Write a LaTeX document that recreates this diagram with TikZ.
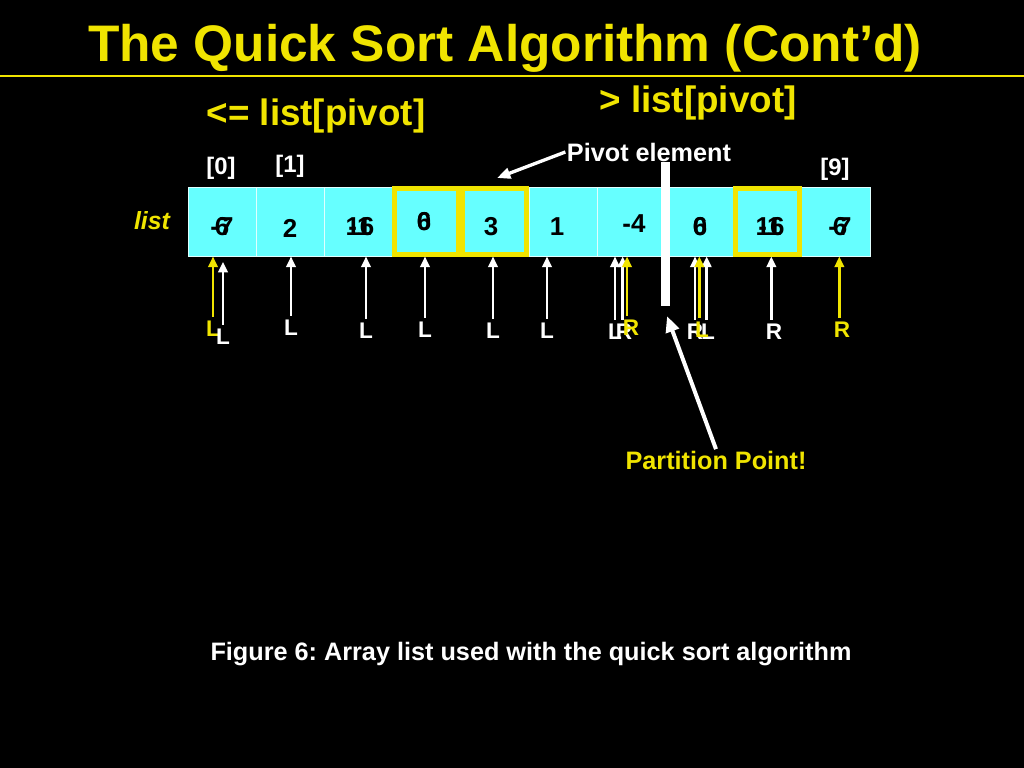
\documentclass[tikz,border=0pt]{standalone}
\usepackage{fontspec}
\setmainfont{Liberation Sans}
\usetikzlibrary{arrows.meta,positioning}
\definecolor{bg}{HTML}{000000}
\definecolor{gold}{HTML}{F0E400}
\definecolor{cellc}{HTML}{66FFFF}
\definecolor{text}{HTML}{FFFFFF}
\definecolor{ink}{HTML}{000000}
\frenchspacing
\tikzset{
  cell/.style={rectangle, fill=cellc, draw=text!80!cellc, line width=0.6bp, minimum width=51.15bp, minimum height=51.75bp, inner sep=0pt},
  pick/.style={rectangle, draw=gold, line width=4bp, minimum width=48bp, minimum height=49.5bp, inner sep=0pt},
  num/.style={text=ink, font=\fontsize{19.5}{19.5}\selectfont\bfseries, inner sep=0pt},
  idx/.style={text=text, font=\fontsize{18}{18}\selectfont\bfseries, inner sep=0pt},
  labw/.style={text=text, font=\fontsize{17}{17}\selectfont\bfseries, inner sep=3bp},
  laby/.style={text=gold, font=\fontsize{17}{17}\selectfont\bfseries, inner sep=3bp},
  head/.style={text=gold, font=\fontsize{27.7}{27.7}\selectfont\bfseries, inner sep=0pt},
  note/.style={text=text, font=\fontsize{19}{19}\selectfont\bfseries, inner sep=1bp},
  warr/.style={draw=text, line width=2.2bp, -{Triangle[length=8bp,width=7bp]}},
  yarr/.style={draw=gold, line width=2.2bp, -{Triangle[length=8bp,width=7bp]}},
}
\begin{document}
\begin{tikzpicture}[x=0.75bp, y=-0.75bp]
\useasboundingbox (0,0) rectangle (1024,768);
\fill[bg] (-6,-6) rectangle (1030,774);

\node[text=gold, font=\fontsize{38.7}{38.7}\selectfont\bfseries, inner sep=0pt] (title) at (505,48) {The Quick Sort Algorithm (Cont’d)};
\draw[gold, line width=1.5bp] (0,76) -- (1024,76);

\node[head] (lowhead) at (316,116) {<= list[pivot]};
\node[head] (highhead) at (698,103) {> list[pivot]};

\node[cell] (c0) at (222,221.5) {};
\node[cell] (c1) at (290.2,221.5) {};
\node[cell] (c2) at (358.4,221.5) {};
\node[cell] (c3) at (426.6,221.5) {};
\node[cell] (c4) at (494.8,221.5) {};
\node[cell] (c5) at (563,221.5) {};
\node[cell] (c6) at (631.2,221.5) {};
\node[cell] (c7) at (699.4,221.5) {};
\node[cell] (c8) at (767.6,221.5) {};
\node[cell] (c9) at (835.8,221.5) {};

\node[num] at (222,227) {-7};
\node[num] at (222,227) {6};
\node[num] at (290,228) {2};
\node[num] at (360,227) {16};
\node[num] at (360,227) {-1};
\node[num] at (424,222) {6};
\node[num] at (424,222) {0};
\node[num] at (491,227) {3};
\node[num] at (557,227) {1};
\node[num] at (634,224) {-4};
\node[num] at (700,227) {0};
\node[num] at (700,227) {6};
\node[num] at (770,227) {16};
\node[num] at (770,227) {-1};
\node[num] at (840,227) {6};
\node[num] at (840,227) {-7};

\node[pick] (p3) at (c3) {};
\node[pick] (p4) at (c4) {};
\node[pick] (p8) at (c8) {};

\node[fill=text, minimum width=6.75bp, minimum height=108bp, inner sep=0pt] (pbar) at (665,234) {};

\node[idx] (i0) at (221,168) {[0]};
\node[idx] (i1) at (290,166) {[1]};
\node[idx] (i9) at (835,169) {[9]};
\node[text=gold, font=\fontsize{18.7}{18.7}\selectfont\bfseries\itshape, inner sep=0pt] (listlab) at (152,221) {list};

\node[laby] (ly0) at (213,329) {L};
\node[labw] (lw0) at (223,337) {L};
\node[labw] (lw1) at (291,328) {L};
\node[labw] (lw2) at (366,331) {L};
\node[labw] (lw3) at (425,330) {L};
\node[labw] (lw4) at (493,331) {L};
\node[labw] (lw5) at (547,331) {L};
\node[labw] (lw6) at (615,332) {L};
\node[labw] (rw6) at (624,332) {R};
\node[laby] (ry6) at (631,328) {R};
\node[labw] (rw7) at (695,332) {R};
\node[labw] (lw7) at (708,332) {L};
\node[laby] (ly7) at (702,330) {L};
\node[labw] (rw8) at (774,332) {R};
\node[laby] (ry9) at (842,330) {R};

\draw[yarr] (ly0.north) -- (ly0.north |- c0.south);
\draw[warr, shorten >=4bp] (lw0.north) -- (lw0.north |- c0.south);
\draw[warr] (lw1.north) -- (lw1.north |- c1.south);
\draw[warr] (lw2.north) -- (lw2.north |- c2.south);
\draw[warr] (lw3.north) -- (lw3.north |- c3.south);
\draw[warr] (lw4.north) -- (lw4.north |- c4.south);
\draw[warr] (lw5.north) -- (lw5.north |- c5.south);
\draw[warr] (lw6.north) -- (lw6.north |- c6.south);
\draw[warr] ([xshift=-1]rw6.north) -- ([xshift=-1]rw6.north |- c6.south);
\draw[yarr] ([xshift=-3]ry6.north) -- ([xshift=-3]ry6.north |- c6.south);
\draw[warr] (rw7.north) -- (rw7.north |- c7.south);
\draw[warr] ([xshift=-1]lw7.north) -- ([xshift=-1]lw7.north |- c7.south);
\draw[yarr] ([xshift=-2]ly7.north) -- ([xshift=-2]ly7.north |- c7.south);
\draw[warr] ([xshift=-2]rw8.north) -- ([xshift=-2]rw8.north |- c8.south);
\draw[yarr] ([xshift=-2]ry9.north) -- ([xshift=-2]ry9.north |- c9.south);

\node[note] (pivlab) at (649,152) {Pivot element};
\coordinate (pivtip) at (497,178);
\draw[warr, line width=2.5bp, -{Triangle[length=10bp,width=8bp]}] (pivlab.west) -- (pivtip);

\node[note, text=gold] (partlab) at (716,460) {Partition Point!};
\coordinate (parttip) at (667,316);
\draw[warr, line width=3bp, -{Triangle[length=12bp,width=10bp]}] (partlab.north) -- (parttip);

\node[note] (caption) at (531,654) {Figure 6: Array list used with the quick sort algorithm};
\end{tikzpicture}
\end{document}
